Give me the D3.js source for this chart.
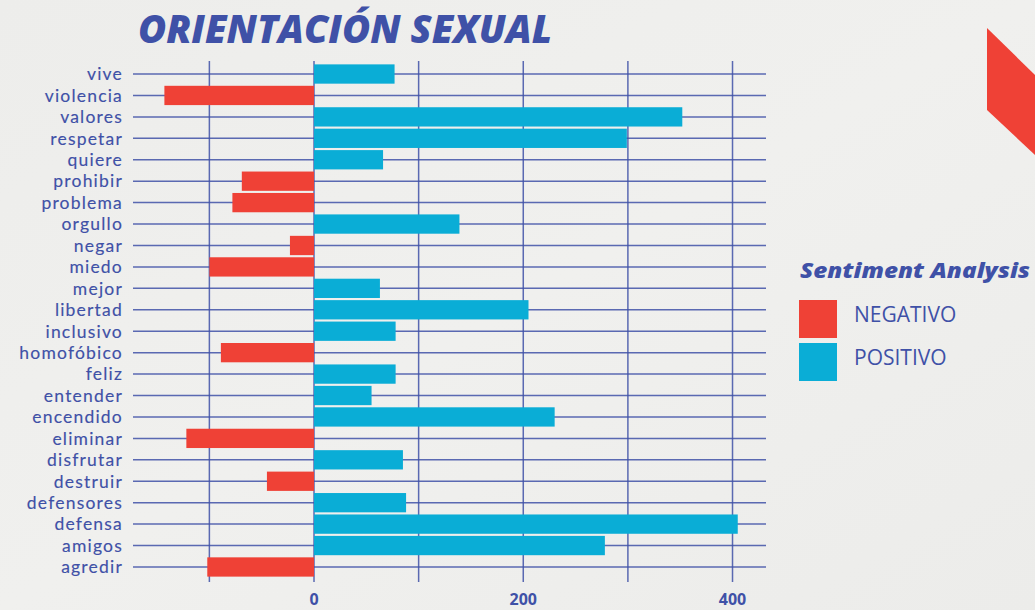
<!DOCTYPE html>
<html>
<head>
<meta charset="utf-8">
<script src="https://cdn.jsdelivr.net/npm/d3@7"></script>
<style>
html,body{margin:0;padding:0;background:#eeeeec;}
svg{display:block;}
</style>
</head>
<body>
<svg id="chart" width="1035" height="610"></svg>
<script>
const categories = ["vive","violencia","valores","respetar","quiere","prohibir","problema","orgullo","negar","miedo","mejor","libertad","inclusivo","homofóbico","feliz","entender","encendido","eliminar","disfrutar","destruir","defensores","defensa","amigos","agredir"];
const values = [77,-143,352,299,66,-69,-78,139,-23,-100,63,205,78,-89,78,55,230,-122,85,-45,88,405,278,-102];
const sentiments = values.map(v => v < 0 ? "NEGATIVO" : "POSITIVO");
const gridTicks = [-100,0,100,200,300,400];
const labelTicks = [0,200,400];
const legendLabels = ["NEGATIVO","POSITIVO"];
const titleText = "ORIENTACIÓN SEXUAL";
const legendTitle = "Sentiment Analysis";

const navy = "#3f51a7";
const font = "'Open Sans', Lato, sans-serif";
const labelFont = "Lato, 'Open Sans', sans-serif";
const color = d3.scaleOrdinal().domain(legendLabels).range(["#ef4136","#0aadd6"]);

const svg = d3.select("#chart");

// background
const defs = svg.append("defs");
const grad = defs.append("linearGradient").attr("id","bg").attr("x1","0").attr("y1","0").attr("x2","1").attr("y2","1");
grad.append("stop").attr("offset","0").attr("stop-color","#ededeb");
grad.append("stop").attr("offset","0.5").attr("stop-color","#f0f0ee");
grad.append("stop").attr("offset","1").attr("stop-color","#ececea");
svg.append("rect").attr("width",1035).attr("height",610).attr("fill","url(#bg)");

// decorative shape
svg.append("polygon").attr("points","987,28 1035,75 1035,155 987,110").attr("fill","#ef4136");

const x = d3.scaleLinear().domain([-173, 432]).range([133, 766]);
const y = d3.scaleBand().domain(categories).range([63.3, 577.7]).paddingInner(0.1).paddingOuter(0.05);

// vertical grid
svg.append("g").selectAll("line").data(gridTicks).join("line")
  .attr("x1", d => x(d)).attr("x2", d => x(d))
  .attr("y1", 61).attr("y2", 582)
  .attr("stroke", navy).attr("stroke-width", 1.5).attr("stroke-opacity", 0.85);

// horizontal grid
svg.append("g").selectAll("line").data(categories).join("line")
  .attr("x1", x.range()[0]).attr("x2", x.range()[1])
  .attr("y1", d => y(d) + y.bandwidth()/2).attr("y2", d => y(d) + y.bandwidth()/2)
  .attr("stroke", navy).attr("stroke-width", 1.5).attr("stroke-opacity", 0.85);

// bars
svg.append("g").selectAll("rect").data(categories).join("rect")
  .attr("x", (d,i) => x(Math.min(0, values[i])))
  .attr("width", (d,i) => Math.abs(x(values[i]) - x(0)))
  .attr("y", d => y(d))
  .attr("height", y.bandwidth())
  .attr("fill", (d,i) => color(sentiments[i]));

// category labels
svg.append("g").selectAll("text").data(categories).join("text")
  .attr("x", 123)
  .attr("y", d => y(d) + y.bandwidth()/2)
  .attr("dy", "0.36em")
  .attr("text-anchor", "end")
  .attr("font-family", labelFont)
  .attr("font-size", 17.5)
  .attr("font-weight", 400)
  .attr("letter-spacing", 1.2)
  .attr("stroke", navy)
  .attr("stroke-width", 0.15)
  .attr("fill", navy)
  .text(d => d);

// x tick labels
svg.append("g").selectAll("text").data(labelTicks).join("text")
  .attr("x", d => x(d))
  .attr("y", 605)
  .attr("text-anchor", "middle")
  .attr("font-family", font)
  .attr("font-size", 16)
  .attr("font-weight", 700)
  .attr("fill", navy)
  .text(d => d);

// title
svg.append("text")
  .attr("x", 138).attr("y", 43)
  .attr("font-family", font)
  .attr("font-size", 39)
  .attr("font-weight", 800)
  .attr("font-style", "italic")
  .attr("textLength", 414)
  .attr("lengthAdjust", "spacingAndGlyphs")
  .attr("fill", navy)
  .text(titleText);

// legend
svg.append("text")
  .attr("x", 800).attr("y", 278)
  .attr("font-family", font)
  .attr("font-size", 21)
  .attr("font-weight", 800)
  .attr("font-style", "italic")
  .attr("textLength", 230)
  .attr("lengthAdjust", "spacingAndGlyphs")
  .attr("fill", navy)
  .text(legendTitle);

const lg = svg.append("g").selectAll("g").data(legendLabels).join("g")
  .attr("transform", (d,i) => `translate(799,${300 + i*43})`);
lg.append("rect").attr("width", 38).attr("height", 38).attr("fill", d => color(d));
lg.append("text")
  .attr("x", 55).attr("y", 22)
  .attr("font-family", font)
  .attr("font-size", 21)
  .attr("font-weight", 500)
  .attr("fill", navy)
  .text(d => d);
</script>
</body>
</html>
